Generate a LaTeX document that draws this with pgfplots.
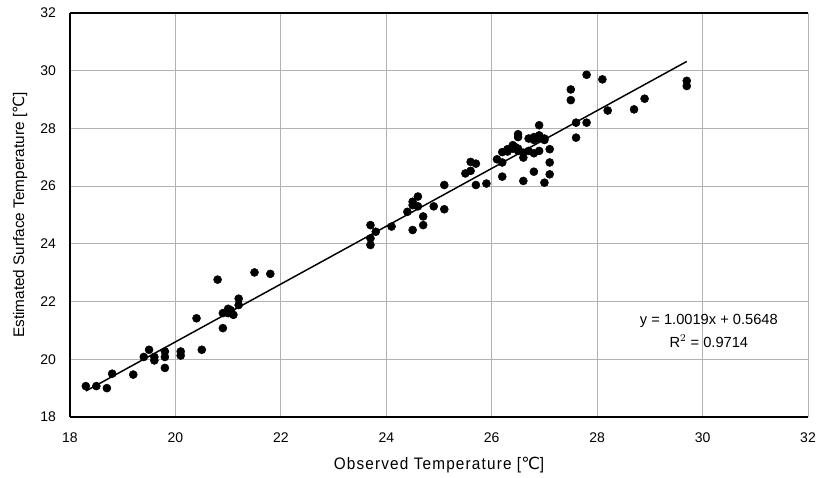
\documentclass[border=0pt]{standalone}
\usepackage{fontspec}
\setmainfont{Liberation Sans}
\newfontfamily\dejavu{DejaVu Sans}
\newfontfamily\narrow[FakeStretch=0.92,LetterSpace=7]{Liberation Sans}
\usepackage{pgfplots}
\pgfplotsset{compat=1.18}
\usepackage{pgfplotstable}
\pgfplotstableread{
x y
18.3 19.07
18.5 19.07
18.7 19.0
18.8 19.5
19.2 19.47
19.4 20.08
19.5 20.33
19.6 20.08
19.6 19.96
19.8 20.27
19.8 20.08
19.8 19.7
20.1 20.27
20.1 20.13
20.4 21.42
20.5 20.33
20.8 22.76
20.9 21.08
20.9 21.6
21.0 21.75
21.0 21.6
21.1 21.54
21.05 21.7
21.2 21.88
21.2 22.1
21.5 23.01
21.8 22.96
23.7 24.65
23.7 24.19
23.7 23.96
23.8 24.42
24.1 24.6
24.4 25.11
24.5 24.48
24.5 25.46
24.5 25.34
24.6 25.64
24.6 25.3
24.7 24.95
24.7 24.65
24.9 25.3
25.1 25.2
25.1 26.04
25.5 26.44
25.6 26.84
25.6 26.53
25.7 26.78
25.7 26.04
25.9 26.09
26.1 26.93
26.2 27.18
26.2 26.82
26.2 26.33
26.3 27.28
26.3 27.2
26.4 27.42
26.4 27.3
26.45 27.35
26.5 27.22
26.5 27.3
26.5 27.8
26.5 27.7
26.6 27.16
26.6 26.99
26.6 26.18
26.7 27.22
26.7 27.65
26.8 27.7
26.8 27.6
26.8 27.14
26.8 26.5
26.9 28.11
26.9 27.76
26.9 27.65
26.9 27.22
27.0 27.65
27.0 27.6
27.0 26.12
27.1 27.28
27.1 26.82
27.1 26.41
27.5 29.35
27.5 28.98
27.6 28.2
27.6 27.68
27.8 29.86
27.8 28.2
28.1 29.7
28.2 28.62
28.7 28.66
28.9 29.03
29.7 29.65
29.7 29.47
}\pts
\pgfplotstableread{
x y
18.3 18.8996
29.7 30.3212
}\fit
\begin{document}
\begin{tikzpicture}
\begin{axis}[
  scale only axis,
  width=553.5pt, height=303pt,
  xmin=18, xmax=32, ymin=18, ymax=32,
  xtick={18,20,...,32}, ytick={18,20,...,32},
  grid=major,
  major grid style={gray!60, line width=0.6pt},
  axis x line*=bottom, axis y line*=left,
  axis line style={black, line width=0.8pt},
  tick style={draw=none},
  tick label style={font=\fontsize{10.5}{12}\selectfont},
  /pgf/number format/assume math mode=true,
  xticklabel style={yshift=-8pt},
  yticklabel style={xshift=-7pt},
  xlabel={\narrow Observed Temperature [{\dejavu ℃}]},
  ylabel={Estimated Surface Temperature [{\dejavu ℃}]},
  xlabel style={font=\fontsize{12.5}{14}\selectfont, at={([yshift=-36pt]axis description cs:0.5,0)}, anchor=center},
  ylabel style={font=\fontsize{11.5}{13}\selectfont, at={([xshift=-37.5pt]axis description cs:0,0.5)}, anchor=center, rotate=0},
  clip=false,
]
\draw[black, line width=0.8pt] (axis cs:18,32) -- (axis cs:32,32);
\draw[gray!60, line width=0.6pt] (axis cs:32,32) -- (axis cs:32,18);
\addplot[only marks, mark=*, mark size=3pt, black] table {\pts};
\addplot[black, line width=1.1pt] table {\fit};
\node[font=\fontsize{11}{12}\selectfont] at (axis cs:30.12,21.33) {y = 1.0019x + 0.5648};
\node[font=\fontsize{11}{12}\selectfont] at (axis cs:30.12,20.63) {R$^{2}$ = 0.9714};
\end{axis}
\useasboundingbox (current axis.south west) ++(-52.5pt,-45pt) rectangle ([xshift=12.75pt,yshift=9.75pt]current axis.north east);
\end{tikzpicture}
\end{document}
